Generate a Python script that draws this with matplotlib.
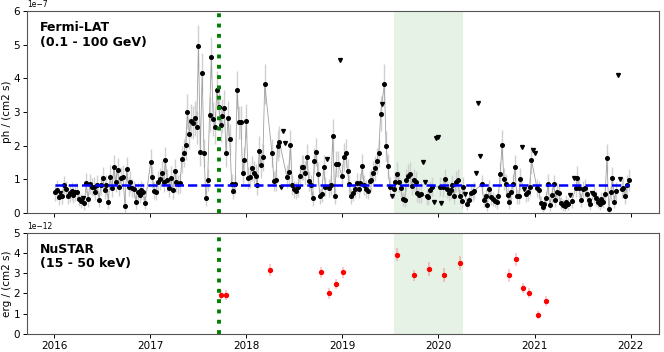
import matplotlib
matplotlib.use("Agg")
import matplotlib.pyplot as plt
import numpy as np

# Fermi-LAT weekly fluxes, units of 1e-7 ph/cm2/s (None = no bin)
fermi_start = 2016.005
fermi_bin_days = 7.0
fermi_flux = [
    0.61, 0.68, 0.47, 0.60, 0.50, 0.83, 0.70, 0.49, 0.58, 0.66,
    0.53, 0.63, 0.63, 0.42, 0.36, 0.44, 0.29, 0.88, 0.41, 0.86,
    0.78, 0.78, 0.63, 0.83, 0.39, 0.83, 1.03, 0.68, 0.83, 0.34,
    1.08, 0.73, 1.35, 0.93, 1.28, 0.78, 1.03, 1.08, 0.22, 1.30,
    0.78, 0.93, 0.73, 0.70, 0.34, 0.63, 0.53, 0.68, 0.63, 0.31,
    None, None, 1.50, 1.06, 0.66, 0.63, 0.93, 1.01, 1.20, 0.93,
    1.57, 0.98, 0.73, 1.05, 0.68, 1.25, 0.93, 0.85, 0.88, 1.60,
    1.77, 2.02, 3.01, 2.35, 2.74, 2.68, 2.81, 2.54, 4.97, 1.81,
    4.17, 1.77, 0.44, 0.98, 2.91, 4.62, 2.79, 2.54, 3.65, 3.16,
    2.61, 2.88, 3.13, 1.77, 2.81, 2.19, 0.87, 0.66, 0.85, 3.65,
    2.69, 2.69, 1.20, 1.57, 2.73, 1.03, 1.08, 1.33, 1.20, 1.10,
    0.83, 1.85, 1.43, 1.65, 3.83, None, None, None, 1.77, 0.95,
    0.98, 2.00, 2.12, 0.78, 2.42, 2.09, 1.08, 1.21, 2.02, 0.83,
    0.70, 0.66, 0.76, 1.10, 1.36, 1.35, 1.18, 1.65, 0.95, 0.83,
    0.44, 1.55, 1.80, 1.15, 0.49, 0.56, 1.36, 0.78, 1.60, 0.75,
    0.83, 2.30, 0.51, 1.45, 1.45, 4.53, 1.11, 1.67, 1.79, 1.25,
    0.85, 0.49, 0.60, 0.70, 0.88, 0.71, 0.88, 1.38, 0.83, 0.71,
    0.66, 0.95, 0.98, 1.20, 1.33, 1.54, 1.79, 2.94, 3.23, 3.83,
    1.99, 1.38, 0.78, 0.51, 0.71, 0.91, 1.16, 0.93, 0.73, 0.42,
    0.39, 0.98, 1.11, 1.16, 0.81, 0.98, 0.93, 0.58, 0.53, 0.55,
    1.50, 0.91, 0.49, 0.47, 0.68, 0.78, 0.32, 2.22, 2.27, 0.78,
    0.31, 0.76, 1.00, 0.71, 0.60, 0.68, 0.83, 0.49, 0.93, 0.98,
    0.49, 0.36, 0.78, 0.56, 0.26, 0.39, 0.58, 0.61, 0.66, 1.20,
    3.28, 1.70, 0.85, 0.39, 0.49, 0.24, 0.71, 0.47, 0.42, 0.37,
    0.32, 0.49, 1.16, 2.02, 1.00, 0.85, 0.53, 0.32, 0.61, 0.85,
    1.35, 0.49, 0.51, 1.01, 1.95, 0.71, 0.56, 0.61, 0.78, 1.57,
    1.87, 1.77, 0.73, 0.68, 0.31, 0.17, 0.27, 0.44, 0.86, 0.24,
    0.53, 0.85, 0.39, 0.63, 0.58, 0.29, 0.24, 0.21, 0.34, 0.27,
    0.53, 0.37, 1.05, 0.73, 1.05, 0.73, 0.39, 0.70, 0.75, 0.55,
    0.39, 0.27, 0.58, 0.55, 0.44, 0.34, 0.27, 0.41, 0.34, 0.56,
    1.62, 0.12, 0.61, 1.03, 0.34, 0.65, 4.09, 1.01, 0.71, 0.75,
    0.49, 0.83, 0.98,
]
fermi_err = [
    0.25, 0.30, 0.22, 0.00, 0.24, 0.28, 0.26, 0.22, 0.25, 0.27,
    0.24, 0.26, 0.25, 0.22, 0.21, 0.00, 0.20, 0.30, 0.22, 0.29,
    0.27, 0.28, 0.25, 0.30, 0.22, 0.29, 0.33, 0.26, 0.30, 0.21,
    0.34, 0.27, 0.38, 0.31, 0.36, 0.28, 0.33, 0.34, 0.18, 0.37,
    0.28, 0.31, 0.27, 0.26, 0.21, 0.25, 0.23, 0.26, 0.25, 0.20,
    None, None, 0.40, 0.33, 0.26, 0.25, 0.31, 0.32, 0.35, 0.30,
    0.40, 0.32, 0.27, 0.33, 0.26, 0.36, 0.31, 0.29, 0.30, 0.40,
    0.42, 0.44, 0.52, 0.46, 0.50, 0.49, 0.51, 0.48, 0.62, 0.42,
    0.58, 0.42, 0.22, 0.32, 0.52, 0.60, 0.50, 0.48, 0.56, 0.53,
    0.49, 0.51, 0.53, 0.42, 0.51, 0.46, 0.30, 0.26, 0.29, 0.56,
    0.50, 0.50, 0.35, 0.40, 0.50, 0.33, 0.34, 0.37, 0.35, 0.34,
    0.29, 0.43, 0.38, 0.41, 0.58, None, None, None, 0.42, 0.31,
    0.32, 0.45, 0.46, 0.00, 0.00, 0.00, 0.34, 0.35, 0.45, 0.29,
    0.26, 0.26, 0.28, 0.34, 0.37, 0.37, 0.35, 0.41, 0.31, 0.29,
    0.22, 0.39, 0.42, 0.35, 0.23, 0.24, 0.37, 0.28, 0.00, 0.27,
    0.29, 0.48, 0.23, 0.38, 0.38, 0.00, 0.34, 0.41, 0.42, 0.36,
    0.29, 0.23, 0.25, 0.27, 0.30, 0.27, 0.30, 0.37, 0.29, 0.27,
    0.26, 0.31, 0.32, 0.35, 0.37, 0.39, 0.42, 0.52, 0.00, 0.60,
    0.44, 0.37, 0.28, 0.00, 0.27, 0.30, 0.34, 0.31, 0.27, 0.21,
    0.21, 0.32, 0.34, 0.35, 0.29, 0.32, 0.31, 0.24, 0.23, 0.24,
    0.00, 0.00, 0.23, 0.22, 0.26, 0.28, 0.00, 0.00, 0.00, 0.28,
    0.00, 0.28, 0.32, 0.27, 0.25, 0.26, 0.29, 0.23, 0.31, 0.32,
    0.23, 0.20, 0.28, 0.00, 0.18, 0.21, 0.24, 0.25, 0.26, 0.00,
    0.00, 0.00, 0.29, 0.21, 0.23, 0.18, 0.27, 0.22, 0.21, 0.20,
    0.19, 0.23, 0.35, 0.45, 0.33, 0.30, 0.24, 0.19, 0.25, 0.30,
    0.38, 0.23, 0.24, 0.33, 0.00, 0.00, 0.24, 0.25, 0.28, 0.41,
    0.00, 0.00, 0.27, 0.26, 0.19, 0.15, 0.18, 0.22, 0.30, 0.17,
    0.23, 0.29, 0.21, 0.25, 0.24, 0.18, 0.17, 0.16, 0.20, 0.18,
    0.00, 0.21, 0.00, 0.27, 0.33, 0.27, 0.21, 0.26, 0.27, 0.24,
    0.21, 0.18, 0.00, 0.24, 0.22, 0.20, 0.18, 0.22, 0.20, 0.24,
    0.42, 0.14, 0.25, 0.33, 0.20, 0.26, 0.00, 0.00, 0.27, 0.28,
    0.23, 0.30, 0.32,
]
# weeks whose value is an upper limit
fermi_ul_weeks = [3, 15, 123, 124, 125, 148, 155, 178, 183, 200, 201, 206,
                  207, 208, 210, 223, 229, 230, 231, 254, 255, 260, 261,
                  280, 282, 292, 306, 307]
fermi_mean = 0.83

# NuSTAR 15-50 keV, units of 1e-12 erg/cm2/s
nustar_time = [2017.73, 2017.79, 2018.245, 2018.78, 2018.86, 2018.93, 2019.01,
               2019.57, 2019.74, 2019.90, 2020.06, 2020.22,
               2020.73, 2020.81, 2020.88, 2020.94, 2021.04, 2021.12]
nustar_flux = [1.91, 1.94, 3.16, 3.04, 2.00, 2.47, 3.04,
               3.90, 2.89, 3.19, 2.91, 3.49,
               2.89, 3.68, 2.27, 2.04, 0.94, 1.63]
nustar_err = [0.25, 0.25, 0.28, 0.27, 0.25, 0.26, 0.28,
              0.32, 0.27, 0.35, 0.33, 0.34,
              0.30, 0.32, 0.26, 0.25, 0.22, 0.24]

flare_time = 2017.71
span_start, span_end = 2019.54, 2020.26

# --- split detections / upper limits
n = len(fermi_flux)
week_t = fermi_start + np.arange(n) * fermi_bin_days / 365.25
ul_set = set(fermi_ul_weeks)
det = [i for i in range(n) if fermi_flux[i] is not None and i not in ul_set]
t_det = week_t[det]
f_det = np.array([fermi_flux[i] for i in det]) * 1e-7
e_det = np.array([fermi_err[i] for i in det]) * 1e-7
t_ul = week_t[fermi_ul_weeks]
f_ul = np.array([fermi_flux[i] for i in fermi_ul_weeks]) * 1e-7

fig = plt.figure(figsize=(6.64, 3.52), dpi=100)
ax1 = fig.add_axes([0.0407, 0.395, 0.9518, 0.574])
ax2 = fig.add_axes([0.0407, 0.051, 0.9518, 0.288], sharex=ax1)

for ax in (ax1, ax2):
    ax.axvspan(span_start, span_end, color="green", alpha=0.1, lw=0, zorder=0)
    ax.axvline(flare_time, color="green", linestyle=":", linewidth=2.8, zorder=5)

ax1.errorbar(t_det, f_det, yerr=e_det, fmt="none", ecolor="#d0d0d0", elinewidth=1.0, zorder=1)
ax1.plot(t_det, f_det, color="#a0a0a0", linewidth=0.6, zorder=2)
ax1.plot(t_det, f_det, "o", color="black", markersize=2.6, zorder=3)
ax1.plot(t_ul, f_ul, "v", color="black", markersize=2.8, zorder=3)
ax1.hlines(fermi_mean * 1e-7, week_t[0], week_t[-1], colors="blue",
           linestyles="--", linewidth=1.8, zorder=4)

nt = np.array(nustar_time)
ax2.errorbar(nt, np.array(nustar_flux) * 1e-12, yerr=np.array(nustar_err) * 1e-12,
             fmt="none", ecolor="red", alpha=0.2, elinewidth=1.5, zorder=2)
ax2.plot(nt, np.array(nustar_flux) * 1e-12, "o", color="red", markersize=2.8, zorder=3)

ax1.set_ylim(0, 6e-7)
ax2.set_ylim(0, 5e-12)
ax2.set_yticks(np.arange(6) * 1e-12)
ax1.set_xlim(2015.714, 2022.297)
ax2.set_xticks([2016, 2017, 2018, 2019, 2020, 2021, 2022])
ax2.set_xticklabels(["2016", "2017", "2018", "2019", "2020", "2021", "2022"])
ax1.tick_params(labelbottom=False)

for ax in (ax1, ax2):
    ax.tick_params(axis="both", labelsize=7.5, length=3, width=0.7, pad=2)
    ax.yaxis.get_offset_text().set_fontsize(5.5)
    for sp in ax.spines.values():
        sp.set_color("#555555")
        sp.set_linewidth(0.8)

ax1.set_ylabel("ph / (cm2 s)", fontsize=7.5, labelpad=1)
ax2.set_ylabel("erg / (cm2 s)", fontsize=7.5, labelpad=1)

ax1.text(0.02, 0.95, "Fermi-LAT\n(0.1 - 100 GeV)", transform=ax1.transAxes,
         ha="left", va="top", fontsize=9, fontweight="bold", linespacing=1.15)
ax2.text(0.02, 0.90, "NuSTAR\n(15 - 50 keV)", transform=ax2.transAxes,
         ha="left", va="top", fontsize=9, fontweight="bold", linespacing=1.15)

fig.savefig("out.png", dpi=100, facecolor="white")
